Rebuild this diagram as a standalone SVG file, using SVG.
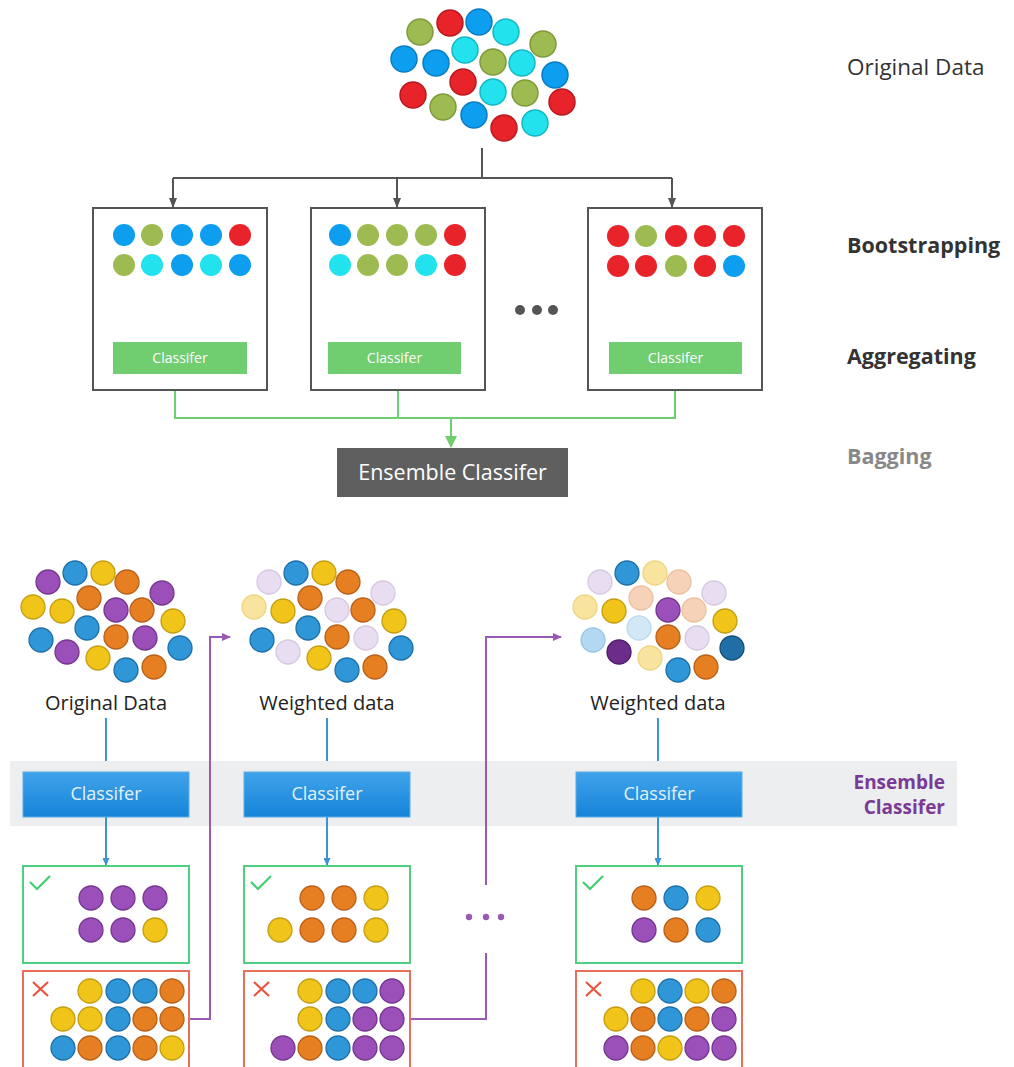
<svg xmlns="http://www.w3.org/2000/svg" width="1014" height="1067" viewBox="0 0 1014 1067">
<style>
.tc circle{stroke-width:1.5}
.b{fill:#0d9ef0;stroke:#0a7cc4}
.g{fill:#9dbb50;stroke:#7e9a3a}
.r{fill:#e8232a;stroke:#b81a1f}
.c{fill:#22e2ee;stroke:#14b8c4}
.nb circle{stroke:none}
.P{fill:#9b4fb8;stroke:#76368f;stroke-width:1.3}
.B{fill:#2f96d8;stroke:#1f70a8;stroke-width:1.3}
.Y{fill:#f0c419;stroke:#c49e12;stroke-width:1.3}
.O{fill:#e67e22;stroke:#b8611a;stroke-width:1.3}
.L{fill:#e9def1;stroke:#d6c7e3;stroke-width:1.3}
.FY{fill:#f8e49e;stroke:#eed580;stroke-width:1.3}
.FO{fill:#f6d2b8;stroke:#eebf9c;stroke-width:1.3}
.FB{fill:#b3d8f2;stroke:#98c6e8;stroke-width:1.3}
.FB2{fill:#d3e8f6;stroke:#bcd9ee;stroke-width:1.3}
.DB{fill:#1f6ea6;stroke:#14507c;stroke-width:1.3}
.DP{fill:#6b2c8a;stroke:#4f1e68;stroke-width:1.3}
.box{fill:#fff;stroke:#555;stroke-width:2}
.gcls{fill:#70cd70}
.t13{font-family:"Open Sans",sans-serif;font-size:14px;fill:#fff;text-anchor:middle}
.lab{font-family:"Open Sans",sans-serif;font-size:22.5px;fill:#333}
.labb{font-family:"Open Sans",sans-serif;font-size:21.5px;font-weight:bold;fill:#333}
.bcls{fill:url(#bg);stroke:#5aaee8;stroke-width:1}
.t17{font-family:"Open Sans",sans-serif;font-size:18px;fill:#e4f1fc;text-anchor:middle}
.bl{font-family:"Open Sans",sans-serif;font-size:20px;fill:#222;text-anchor:middle}
.ok{fill:#fff;stroke:#4fcf80;stroke-width:2}
.bad{fill:#fff;stroke:#e8705a;stroke-width:2}
</style>
<defs>
<linearGradient id="bg" x1="0" y1="0" x2="0" y2="1">
<stop offset="0" stop-color="#40a3ea"/>
<stop offset="1" stop-color="#1684d8"/>
</linearGradient>
<marker id="ag" markerWidth="10" markerHeight="8" refX="9" refY="4" orient="auto" markerUnits="userSpaceOnUse"><path d="M0,0 L10,4 L0,8 z" fill="#555"/></marker>
<marker id="agr" markerWidth="12" markerHeight="12" refX="11" refY="6" orient="auto" markerUnits="userSpaceOnUse"><path d="M0,0 L12,6 L0,12 z" fill="#6fcf6f"/></marker>
<marker id="ab" markerWidth="8" markerHeight="7" refX="7" refY="3.5" orient="auto" markerUnits="userSpaceOnUse"><path d="M0,0 L8,3.5 L0,7 z" fill="#3b93d6"/></marker>
<marker id="ap" markerWidth="9" markerHeight="8" refX="8" refY="4" orient="auto" markerUnits="userSpaceOnUse"><path d="M0,0 L9,4 L0,8 z" fill="#9b59b6"/></marker>
</defs>
<rect width="1014" height="1067" fill="#fff"/>

<g id="connectors">
<path d="M482,148 V178 M173,178 H672" fill="none" stroke="#555" stroke-width="2"/>
<path d="M173,178 V207" stroke="#555" stroke-width="2" marker-end="url(#ag)"/>
<path d="M397,178 V207" stroke="#555" stroke-width="2" marker-end="url(#ag)"/>
<path d="M672,178 V207" stroke="#555" stroke-width="2" marker-end="url(#ag)"/>
<path d="M175,374 V418 H675 V374 M398,374 V418" fill="none" stroke="#6fcf6f" stroke-width="2"/>
<path d="M451,418 V447" stroke="#6fcf6f" stroke-width="2" marker-end="url(#agr)"/>
<path d="M106,718 V771" stroke="#3b93d6" stroke-width="2" marker-end="url(#ab)"/>
<path d="M327,718 V771" stroke="#3b93d6" stroke-width="2" marker-end="url(#ab)"/>
<path d="M658,718 V771" stroke="#3b93d6" stroke-width="2" marker-end="url(#ab)"/>
</g>

<rect id="band" x="10" y="761" width="947" height="65" fill="#eceeef"/>

<g id="connectors-bottom">
<path d="M106,817 V865" stroke="#3b93d6" stroke-width="2" marker-end="url(#ab)"/>
<path d="M327,817 V865" stroke="#3b93d6" stroke-width="2" marker-end="url(#ab)"/>
<path d="M658,817 V865" stroke="#3b93d6" stroke-width="2" marker-end="url(#ab)"/>
<path d="M189,1019 H210 V637 H230" fill="none" stroke="#9b59b6" stroke-width="2" marker-end="url(#ap)"/>
<path d="M410,1019 H486 V953" fill="none" stroke="#9b59b6" stroke-width="2"/>
<path d="M486,885 V637 H561" fill="none" stroke="#9b59b6" stroke-width="2" marker-end="url(#ap)"/>
<g fill="#9b59b6"><circle cx="469" cy="917" r="3.2"/><circle cx="486" cy="917" r="3.2"/><circle cx="501" cy="917" r="3.2"/></g>
</g>

<g id="original-data" class="tc">
<circle class="g" cx="420" cy="32" r="13"/>
<circle class="r" cx="450" cy="23" r="13"/>
<circle class="b" cx="479" cy="22" r="13"/>
<circle class="c" cx="506" cy="32" r="13"/>
<circle class="g" cx="543" cy="44" r="13"/>
<circle class="b" cx="404" cy="59" r="13"/>
<circle class="b" cx="436" cy="63" r="13"/>
<circle class="c" cx="465" cy="50" r="13"/>
<circle class="g" cx="493" cy="62" r="13"/>
<circle class="c" cx="522" cy="63" r="13"/>
<circle class="b" cx="555" cy="75" r="13"/>
<circle class="r" cx="463" cy="82" r="13"/>
<circle class="r" cx="413" cy="95" r="13"/>
<circle class="c" cx="493" cy="92" r="13"/>
<circle class="g" cx="525" cy="93" r="13"/>
<circle class="r" cx="562" cy="102" r="13"/>
<circle class="g" cx="443" cy="107" r="13"/>
<circle class="b" cx="474" cy="115" r="13"/>
<circle class="r" cx="504" cy="128" r="13"/>
<circle class="c" cx="535" cy="123" r="13"/>
</g>

<g id="bootstrap-1" class="nb">
<rect class="box" x="93" y="208" width="174" height="182"/>
<circle class="b" cx="124" cy="235" r="11"/><circle class="g" cx="152" cy="235" r="11"/><circle class="b" cx="182" cy="235" r="11"/><circle class="b" cx="211" cy="235" r="11"/><circle class="r" cx="240" cy="235" r="11"/>
<circle class="g" cx="124" cy="265" r="11"/><circle class="c" cx="152" cy="265" r="11"/><circle class="b" cx="182" cy="265" r="11"/><circle class="c" cx="211" cy="265" r="11"/><circle class="b" cx="240" cy="265" r="11"/>
<rect class="gcls" x="113" y="342" width="134" height="32"/>
<text class="t13" x="180" y="363">Classifer</text>
</g>
<g id="bootstrap-2" class="nb">
<rect class="box" x="311" y="208" width="174" height="182"/>
<circle class="b" cx="340" cy="235" r="11"/><circle class="g" cx="368" cy="235" r="11"/><circle class="g" cx="397" cy="235" r="11"/><circle class="g" cx="426" cy="235" r="11"/><circle class="r" cx="455" cy="235" r="11"/>
<circle class="c" cx="340" cy="265" r="11"/><circle class="g" cx="368" cy="265" r="11"/><circle class="g" cx="397" cy="265" r="11"/><circle class="c" cx="426" cy="265" r="11"/><circle class="r" cx="455" cy="265" r="11"/>
<rect class="gcls" x="328" y="342" width="133" height="32"/>
<text class="t13" x="394.5" y="363">Classifer</text>
</g>
<g id="ellipsis-top" fill="#555"><circle cx="520" cy="310" r="5"/><circle cx="537" cy="310" r="5"/><circle cx="553" cy="310" r="5"/></g>
<g id="bootstrap-3" class="nb">
<rect class="box" x="588" y="208" width="174" height="182"/>
<circle class="r" cx="618" cy="236" r="11"/><circle class="g" cx="646" cy="236" r="11"/><circle class="r" cx="676" cy="236" r="11"/><circle class="r" cx="705" cy="236" r="11"/><circle class="r" cx="734" cy="236" r="11"/>
<circle class="r" cx="618" cy="266" r="11"/><circle class="r" cx="646" cy="266" r="11"/><circle class="g" cx="676" cy="266" r="11"/><circle class="r" cx="705" cy="266" r="11"/><circle class="b" cx="734" cy="266" r="11"/>
<rect class="gcls" x="609" y="342" width="133" height="32"/>
<text class="t13" x="675.5" y="363">Classifer</text>
</g>

<g id="ensemble-top">
<rect x="337" y="448" width="231" height="49" fill="#5f5f5f"/>
<text x="452.5" y="480" font-family="Open Sans, sans-serif" font-size="21.5" fill="#fff" text-anchor="middle">Ensemble Classifer</text>
</g>

<g id="labels-top">
<text class="lab" x="847" y="75">Original Data</text>
<text class="labb" x="847" y="253">Bootstrapping</text>
<text class="labb" x="847" y="364">Aggregating</text>
<text class="labb" x="847" y="464" style="fill:#888">Bagging</text>
</g>

<g id="cluster-1">
<circle class="P" cx="48" cy="582" r="12"/><circle class="B" cx="75" cy="573" r="12"/><circle class="Y" cx="103" cy="573" r="12"/><circle class="O" cx="127" cy="582" r="12"/><circle class="P" cx="162" cy="593" r="12"/>
<circle class="Y" cx="33" cy="607" r="12"/><circle class="Y" cx="62" cy="611" r="12"/><circle class="O" cx="89" cy="598" r="12"/><circle class="P" cx="116" cy="610" r="12"/><circle class="O" cx="142" cy="610" r="12"/>
<circle class="Y" cx="173" cy="621" r="12"/><circle class="B" cx="41" cy="640" r="12"/><circle class="B" cx="87" cy="628" r="12"/><circle class="O" cx="116" cy="637" r="12"/><circle class="P" cx="145" cy="638" r="12"/>
<circle class="B" cx="180" cy="648" r="12"/><circle class="P" cx="67" cy="652" r="12"/><circle class="Y" cx="98" cy="658" r="12"/><circle class="B" cx="126" cy="670" r="12"/><circle class="O" cx="154" cy="667" r="12"/>
<text class="bl" x="106" y="710">Original Data</text>
</g>
<g id="cluster-2" transform="translate(221,0)">
<circle class="L" cx="48" cy="582" r="12"/><circle class="B" cx="75" cy="573" r="12"/><circle class="Y" cx="103" cy="573" r="12"/><circle class="O" cx="127" cy="582" r="12"/><circle class="L" cx="162" cy="593" r="12"/>
<circle class="FY" cx="33" cy="607" r="12"/><circle class="Y" cx="62" cy="611" r="12"/><circle class="O" cx="89" cy="598" r="12"/><circle class="L" cx="116" cy="610" r="12"/><circle class="O" cx="142" cy="610" r="12"/>
<circle class="Y" cx="173" cy="621" r="12"/><circle class="B" cx="41" cy="640" r="12"/><circle class="B" cx="87" cy="628" r="12"/><circle class="O" cx="116" cy="637" r="12"/><circle class="L" cx="145" cy="638" r="12"/>
<circle class="B" cx="180" cy="648" r="12"/><circle class="L" cx="67" cy="652" r="12"/><circle class="Y" cx="98" cy="658" r="12"/><circle class="B" cx="126" cy="670" r="12"/><circle class="O" cx="154" cy="667" r="12"/>
<text class="bl" x="106" y="710">Weighted data</text>
</g>
<g id="cluster-3" transform="translate(552,0)">
<circle class="L" cx="48" cy="582" r="12"/><circle class="B" cx="75" cy="573" r="12"/><circle class="FY" cx="103" cy="573" r="12"/><circle class="FO" cx="127" cy="582" r="12"/><circle class="L" cx="162" cy="593" r="12"/>
<circle class="FY" cx="33" cy="607" r="12"/><circle class="Y" cx="62" cy="611" r="12"/><circle class="FO" cx="89" cy="598" r="12"/><circle class="P" cx="116" cy="610" r="12"/><circle class="FO" cx="142" cy="610" r="12"/>
<circle class="Y" cx="173" cy="621" r="12"/><circle class="FB" cx="41" cy="640" r="12"/><circle class="FB2" cx="87" cy="628" r="12"/><circle class="O" cx="116" cy="637" r="12"/><circle class="L" cx="145" cy="638" r="12"/>
<circle class="DB" cx="180" cy="648" r="12"/><circle class="DP" cx="67" cy="652" r="12"/><circle class="FY" cx="98" cy="658" r="12"/><circle class="B" cx="126" cy="670" r="12"/><circle class="O" cx="154" cy="667" r="12"/>
<text class="bl" x="106" y="710">Weighted data</text>
</g>

<g id="classifier-1"><rect class="bcls" x="23" y="772" width="166" height="45"/><text class="t17" x="106" y="800">Classifer</text></g>
<g id="classifier-2"><rect class="bcls" x="244" y="772" width="166" height="45"/><text class="t17" x="327" y="800">Classifer</text></g>
<g id="classifier-3"><rect class="bcls" x="576" y="772" width="166" height="45"/><text class="t17" x="659" y="800">Classifer</text></g>

<g id="label-ensemble" font-family="Open Sans, sans-serif" font-size="19" font-weight="bold" fill="#7b3a96" text-anchor="end">
<text x="945" y="789">Ensemble</text>
<text x="945" y="814">Classifer</text>
</g>

<g id="correct-1">
<rect class="ok" x="23" y="866" width="166" height="97"/>
<path d="M30,882 L37,889 L50,876" fill="none" stroke="#3fcf70" stroke-width="2.2"/>
<circle class="P" cx="91" cy="898" r="12"/><circle class="P" cx="123" cy="898" r="12"/><circle class="P" cx="155" cy="898" r="12"/>
<circle class="P" cx="91" cy="930" r="12"/><circle class="P" cx="123" cy="930" r="12"/><circle class="Y" cx="155" cy="930" r="12"/>
</g>
<g id="correct-2">
<rect class="ok" x="244" y="866" width="166" height="97"/>
<path d="M251,882 L258,889 L271,876" fill="none" stroke="#3fcf70" stroke-width="2.2"/>
<circle class="O" cx="312" cy="898" r="12"/><circle class="O" cx="344" cy="898" r="12"/><circle class="Y" cx="376" cy="898" r="12"/>
<circle class="Y" cx="280" cy="930" r="12"/><circle class="O" cx="312" cy="930" r="12"/><circle class="O" cx="344" cy="930" r="12"/><circle class="Y" cx="376" cy="930" r="12"/>
</g>
<g id="correct-3">
<rect class="ok" x="576" y="866" width="166" height="97"/>
<path d="M583,882 L590,889 L603,876" fill="none" stroke="#3fcf70" stroke-width="2.2"/>
<circle class="O" cx="644" cy="898" r="12"/><circle class="B" cx="676" cy="898" r="12"/><circle class="Y" cx="708" cy="898" r="12"/>
<circle class="P" cx="644" cy="930" r="12"/><circle class="O" cx="676" cy="930" r="12"/><circle class="B" cx="708" cy="930" r="12"/>
</g>

<g id="wrong-1">
<rect class="bad" x="23" y="971" width="166" height="100"/>
<path d="M33,982 L48,996 M48,982 L33,996" stroke="#e8553e" stroke-width="2.2"/>
<circle class="Y" cx="90" cy="991" r="12"/><circle class="B" cx="118" cy="991" r="12"/><circle class="B" cx="145" cy="991" r="12"/><circle class="O" cx="172" cy="991" r="12"/>
<circle class="Y" cx="63" cy="1019" r="12"/><circle class="Y" cx="90" cy="1019" r="12"/><circle class="B" cx="118" cy="1019" r="12"/><circle class="O" cx="145" cy="1019" r="12"/><circle class="O" cx="172" cy="1019" r="12"/>
<circle class="B" cx="63" cy="1048" r="12"/><circle class="O" cx="90" cy="1048" r="12"/><circle class="B" cx="118" cy="1048" r="12"/><circle class="O" cx="145" cy="1048" r="12"/><circle class="Y" cx="172" cy="1048" r="12"/>
</g>
<g id="wrong-2">
<rect class="bad" x="244" y="971" width="166" height="100"/>
<path d="M254,982 L269,996 M269,982 L254,996" stroke="#e8553e" stroke-width="2.2"/>
<circle class="Y" cx="310" cy="991" r="12"/><circle class="B" cx="338" cy="991" r="12"/><circle class="B" cx="365" cy="991" r="12"/><circle class="P" cx="392" cy="991" r="12"/>
<circle class="Y" cx="310" cy="1019" r="12"/><circle class="B" cx="338" cy="1019" r="12"/><circle class="P" cx="365" cy="1019" r="12"/><circle class="P" cx="392" cy="1019" r="12"/>
<circle class="P" cx="283" cy="1048" r="12"/><circle class="O" cx="310" cy="1048" r="12"/><circle class="B" cx="338" cy="1048" r="12"/><circle class="P" cx="365" cy="1048" r="12"/><circle class="P" cx="392" cy="1048" r="12"/>
</g>
<g id="wrong-3">
<rect class="bad" x="576" y="971" width="166" height="100"/>
<path d="M586,982 L601,996 M601,982 L586,996" stroke="#e8553e" stroke-width="2.2"/>
<circle class="Y" cx="643" cy="991" r="12"/><circle class="B" cx="670" cy="991" r="12"/><circle class="Y" cx="697" cy="991" r="12"/><circle class="O" cx="724" cy="991" r="12"/>
<circle class="Y" cx="616" cy="1019" r="12"/><circle class="O" cx="643" cy="1019" r="12"/><circle class="B" cx="670" cy="1019" r="12"/><circle class="O" cx="697" cy="1019" r="12"/><circle class="P" cx="724" cy="1019" r="12"/>
<circle class="P" cx="616" cy="1048" r="12"/><circle class="O" cx="643" cy="1048" r="12"/><circle class="Y" cx="670" cy="1048" r="12"/><circle class="P" cx="697" cy="1048" r="12"/><circle class="P" cx="724" cy="1048" r="12"/>
</g>
</svg>
